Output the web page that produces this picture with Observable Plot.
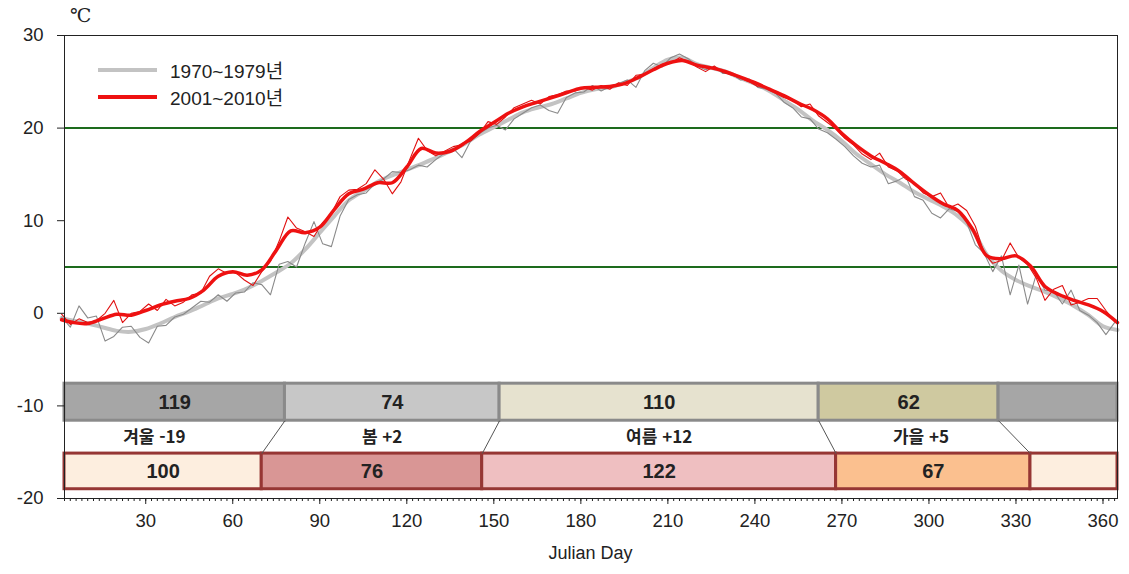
<!DOCTYPE html>
<html lang="ko">
<head>
<meta charset="utf-8">
<script src="https://cdn.jsdelivr.net/npm/d3@7"></script>
<script src="https://cdn.jsdelivr.net/npm/@observablehq/plot@0.6"></script>
<style>
  body { margin: 0; background: #fff; }
  #chart { position: relative; width: 1129px; height: 574px; font-family: "Liberation Sans", Arial, sans-serif; color: #222; }
  #chart svg { position: absolute; left: 0; top: 0; }
  .unit { position: absolute; left: 70px; top: 4px; font-size: 19px; font-family: "DejaVu Serif", serif; }
  .legend { position: absolute; left: 98px; top: 56px; font-size: 19px; }
  .legend .row { display: flex; align-items: center; height: 27px; }
  .legend .swatch { width: 59px; height: 4px; margin-right: 13px; }
  .legend span { font-family: "Liberation Sans", "Noto Sans CJK KR", sans-serif; }
  .xlabel { position: absolute; left: 0; width: 1181px; top: 543px; text-align: center; font-size: 18px; }
</style>
</head>
<body>
<div id="chart">
  <div class="unit">℃</div>
  <div class="legend">
    <div class="row"><div class="swatch" id="sw1"></div><span id="lg1"></span></div>
    <div class="row"><div class="swatch" id="sw2"></div><span id="lg2"></span></div>
  </div>
  <div class="xlabel">Julian Day</div>
</div>
<script>
// Daily mean temperature over the year, 1970s vs 2000s (Julian day on x)
const periods = ["1970~1979년", "2001~2010년"];

// Smoothed climatology, sampled every 5 days
const smoothDays = [1, 5, 10, 15, 20, 25, 30, 35, 40, 45, 50, 55, 60, 65, 70, 75, 80, 85, 90, 95,
  100, 105, 110, 115, 120, 125, 130, 135, 140, 145, 150, 155, 160, 165, 170, 175, 180, 185, 190, 195,
  200, 205, 210, 215, 220, 225, 230, 235, 240, 245, 250, 255, 260, 265, 270, 275, 280, 285, 290, 295,
  300, 305, 310, 315, 320, 325, 330, 335, 340, 345, 350, 355, 360, 365];
const smooth1970 = [-0.5, -0.8, -1.1, -1.5, -1.9, -2.0, -1.7, -1.1, -0.4, 0.2, 0.9, 1.6, 2.1, 2.7, 3.5, 4.4, 5.4, 6.9, 8.7, 10.5,
  12.2, 13.2, 14.2, 14.9, 15.5, 16.1, 16.8, 17.5, 18.3, 19.3, 20.1, 20.9, 21.7, 22.2, 22.6, 23.2, 23.8, 24.2, 24.4, 24.9,
  25.5, 26.5, 27.4, 27.6, 26.9, 26.5, 26.1, 25.4, 24.8, 24.0, 23.0, 22.0, 20.8, 19.8, 18.6, 17.2, 16.1, 15.0, 14.1, 13.1,
  12.3, 11.5, 10.5, 9.0, 6.3, 4.6, 3.6, 2.9, 2.3, 1.6, 0.8, -0.2, -1.4, -1.8];
const smooth2000 = [-0.7, -1.0, -1.1, -0.6, -0.1, -0.2, 0.3, 0.9, 1.3, 1.6, 2.5, 4.0, 4.5, 4.1, 4.7, 6.8, 8.9, 8.7, 9.3, 11.2,
  12.9, 13.4, 14.1, 14.1, 15.8, 17.8, 17.3, 17.5, 18.4, 19.6, 20.6, 21.6, 22.3, 22.8, 23.3, 23.8, 24.3, 24.4, 24.5, 24.8,
  25.5, 26.3, 27.0, 27.3, 26.8, 26.5, 26.1, 25.5, 24.9, 24.2, 23.5, 22.7, 22.0, 21.0, 19.4, 18.1, 17.0, 16.2, 15.3, 14.0,
  12.8, 11.8, 11.1, 9.1, 6.2, 5.9, 6.2, 5.1, 2.9, 2.0, 1.4, 0.9, 0.2, -1.0];

// Day-to-day values, every 3 days (day 1, 4, 7, ... 364)
const rawDays = d3.range(1, 365, 3);
const raw1970 = [
  -0.4, -1.5, 0.8, -0.5, -0.3, -3.0, -2.5, -1.5, -1.4, -2.6,
  -3.2, -1.4, -1.3, -0.4, -0.1, 0.6, 1.3, 1.2, 2.0, 1.3,
  2.2, 2.3, 3.3, 3.1, 2.0, 5.3, 5.6, 5.0, 7.6, 9.9,
  7.5, 7.2, 10.5, 12.3, 12.8, 13.0, 14.0, 14.5, 15.3, 15.2,
  15.5, 16.0, 15.8, 16.6, 17.3, 17.8, 16.8, 18.6, 19.4, 20.0,
  20.3, 19.8, 21.0, 21.6, 22.2, 22.5, 21.9, 21.6, 23.3, 23.8,
  23.9, 24.6, 24.0, 24.5, 24.8, 25.2, 24.4, 26.2, 27.0, 26.6,
  27.6, 28.0, 27.5, 26.7, 26.3, 26.6, 25.9, 25.9, 25.2, 25.3,
  24.4, 24.2, 23.8, 22.8, 22.2, 21.2, 21.0, 19.9, 19.5, 18.8,
  18.0, 17.0, 16.2, 15.8, 16.0, 14.0, 14.3, 14.8, 12.6, 12.2,
  10.8, 10.3, 11.3, 11.0, 9.8, 7.4, 6.5, 4.5, 6.2, 2.0,
  5.2, 1.0, 4.2, 2.5, 2.4, 1.0, 2.5, 0.3, -0.2, -1.0,
  -2.3, -1.0];
const raw2000 = [
  -0.1, -1.2, -0.6, -1.0, -0.8, 0.0, 1.4, -1.0, 0.0, 0.2,
  1.0, 0.3, 1.5, 0.8, 1.2, 2.0, 2.2, 4.0, 4.8, 4.3,
  4.4, 3.6, 3.0, 4.5, 5.6, 7.8, 10.4, 9.2, 8.8, 8.3,
  9.8, 10.8, 12.6, 13.3, 13.4, 14.0, 15.5, 14.5, 12.9, 14.2,
  16.6, 18.9, 17.6, 17.0, 17.5, 18.0, 18.2, 18.6, 19.4, 20.7,
  20.4, 21.2, 22.2, 22.6, 23.0, 22.6, 23.4, 23.6, 24.0, 24.0,
  24.4, 24.1, 24.6, 24.2, 24.9, 24.6, 25.7, 25.8, 26.4, 26.9,
  27.0, 27.6, 27.2, 26.6, 26.1, 26.7, 26.0, 25.7, 25.4, 25.0,
  24.5, 24.4, 23.8, 23.3, 23.0, 22.3, 22.6, 21.3, 20.6, 19.9,
  18.9, 18.2, 17.2, 16.6, 17.3, 15.8, 15.4, 14.5, 14.0, 13.0,
  12.6, 13.0, 11.4, 11.8, 11.1, 9.4, 6.5, 5.4, 5.7, 7.6,
  6.0, 5.3, 3.8, 1.4, 2.6, 3.0, 0.9, 1.2, 1.6, 1.6,
  0.3, -0.9];

// Season thresholds (°C) and season onset days
const thresholds = [5, 20];
const seasonNames = ["겨울", "봄", "여름", "가을"];
const onset1970 = [324, 78, 152, 262];   // winter, spring, summer, autumn
const onset2000 = [335, 70, 146, 268];

// Axis ticks
const yTicks = [-20, -10, 0, 10, 20, 30];
const xTicks = [30, 60, 90, 120, 150, 180, 210, 240, 270, 300, 330, 360];

// ---- styling / layout ----
const dayStart = 2, dayEnd = 365;
const grayThin = "#8a8a8a", grayThick = "#c3c3c3";
const redThin = "#e01010", redThick = "#ee1111";
const topFills = ["#a6a6a6", "#c7c7c7", "#e6e2cf", "#cfc9a0"];
const bottomFills = ["#fdeedf", "#d99695", "#efbfc1", "#fbc08f"];
const topRow = [-11.6, -7.6], bottomRow = [-19.0, -15.15], labelRowY = -13.4;

const smoothData = [];
smoothDays.forEach((d, i) => {
  smoothData.push({day: d, t: smooth1970[i], s: periods[0]});
  smoothData.push({day: d, t: smooth2000[i], s: periods[1]});
});
const raw70 = rawDays.map((d, i) => ({day: d, t: raw1970[i]}));
const raw00 = rawDays.map((d, i) => ({day: d, t: raw2000[i]}));

// Season lengths from onset days (winter wraps around the year end)
function lengths(onset) {
  const [w, sp, su, au] = onset;
  return [(dayEnd - w) + sp, su - sp, au - su, w - au];
}
const len1970 = lengths(onset1970);
const len2000 = lengths(onset2000);

function boxes(onset, len, fills) {
  const [w, sp, su, au] = onset;
  return [
    {x1: dayStart, x2: sp, fill: fills[0], label: len[0]},
    {x1: sp, x2: su, fill: fills[1], label: len[1]},
    {x1: su, x2: au, fill: fills[2], label: len[2]},
    {x1: au, x2: w, fill: fills[3], label: len[3]},
    {x1: w, x2: dayEnd, fill: fills[0], label: ""}
  ];
}
const topBoxes = boxes(onset1970, len1970, topFills);
const bottomBoxes = boxes(onset2000, len2000, bottomFills);

const connectors = [1, 2, 3, 0].map(k => ({a: onset1970[k], b: onset2000[k]}));

const seasonLabels = seasonNames.map((name, k) => {
  const diff = len2000[k] - len1970[k];
  const text = `${name} ${diff > 0 ? "+" : ""}${diff}`;
  let x;
  if (k === 0) x = (dayStart + (onset1970[1] + onset2000[1]) / 2) / 2 - 5;
  else {
    const a = (onset1970[k] + onset2000[k]) / 2;
    const b = (onset1970[(k + 1) % 4] + onset2000[(k + 1) % 4]) / 2;
    x = (a + b) / 2;
  }
  return {x, text};
});

const boxFont = "'Liberation Sans', Arial, sans-serif";
const krFont = "'Noto Sans CJK KR', sans-serif";

const chart = Plot.plot({
  width: 1129,
  height: 574,
  marginLeft: 64,
  marginRight: 12,
  marginTop: 35,
  marginBottom: 76,
  style: {fontFamily: "'Liberation Sans', Arial, sans-serif", fontSize: "18.5px", color: "#222", background: "transparent", overflow: "visible"},
  x: {domain: [dayStart, dayEnd]},
  y: {domain: [-20, 30]},
  marks: [
    Plot.ruleY(thresholds, {stroke: "#1d6b1d", strokeWidth: 2}),
    Plot.line(smoothData.filter(d => d.s === periods[0]), {x: "day", y: "t", stroke: grayThick, strokeWidth: 4, curve: "catmull-rom"}),
    Plot.line(raw70, {x: "day", y: "t", stroke: grayThin, strokeWidth: 1.1}),
    Plot.line(raw00, {x: "day", y: "t", stroke: redThin, strokeWidth: 1.1}),
    Plot.line(smoothData.filter(d => d.s === periods[1]), {x: "day", y: "t", stroke: redThick, strokeWidth: 3.5, curve: "catmull-rom"}),
    Plot.rect(topBoxes, {x1: "x1", x2: "x2", y1: topRow[0], y2: topRow[1], fill: "fill", stroke: "#8a8a8a", strokeWidth: 3}),
    Plot.rect(bottomBoxes, {x1: "x1", x2: "x2", y1: bottomRow[0], y2: bottomRow[1], fill: "fill", stroke: "#963634", strokeWidth: 3}),
    Plot.link(connectors, {x1: "a", x2: "b", y1: topRow[0], y2: bottomRow[1], stroke: "#555", strokeWidth: 1}),
    Plot.text(topBoxes, {x: d => (d.x1 + d.x2) / 2, y: (topRow[0] + topRow[1]) / 2, text: "label", fontWeight: "bold", fontSize: 20, fontFamily: boxFont, fill: "#222"}),
    Plot.text(bottomBoxes, {x: d => (d.x1 + d.x2) / 2, y: (bottomRow[0] + bottomRow[1]) / 2, text: "label", fontWeight: "bold", fontSize: 20, fontFamily: boxFont, fill: "#222"}),
    Plot.text(seasonLabels, {x: "x", y: labelRowY, text: "text", fontWeight: "bold", fontSize: 17, fontFamily: krFont, fill: "#222"}),
    Plot.frame({stroke: "#222", strokeWidth: 1}),
    Plot.axisY({ticks: yTicks, tickSize: 7, tickPadding: 14, tickFormat: d => String(d), label: null}),
    Plot.axisX({ticks: d3.range(dayStart, dayEnd, 2), tickSize: 3, tickFormat: () => "", label: null}),
    Plot.axisX({ticks: xTicks, tickSize: 6, tickPadding: 9, tickFormat: d => String(d), label: null})
  ]
});

const host = document.getElementById("chart");
host.insertBefore(chart, host.firstChild);

document.getElementById("sw1").style.background = grayThick;
document.getElementById("sw2").style.background = redThick;
document.getElementById("lg1").textContent = periods[0];
document.getElementById("lg2").textContent = periods[1];
</script>
</body>
</html>
